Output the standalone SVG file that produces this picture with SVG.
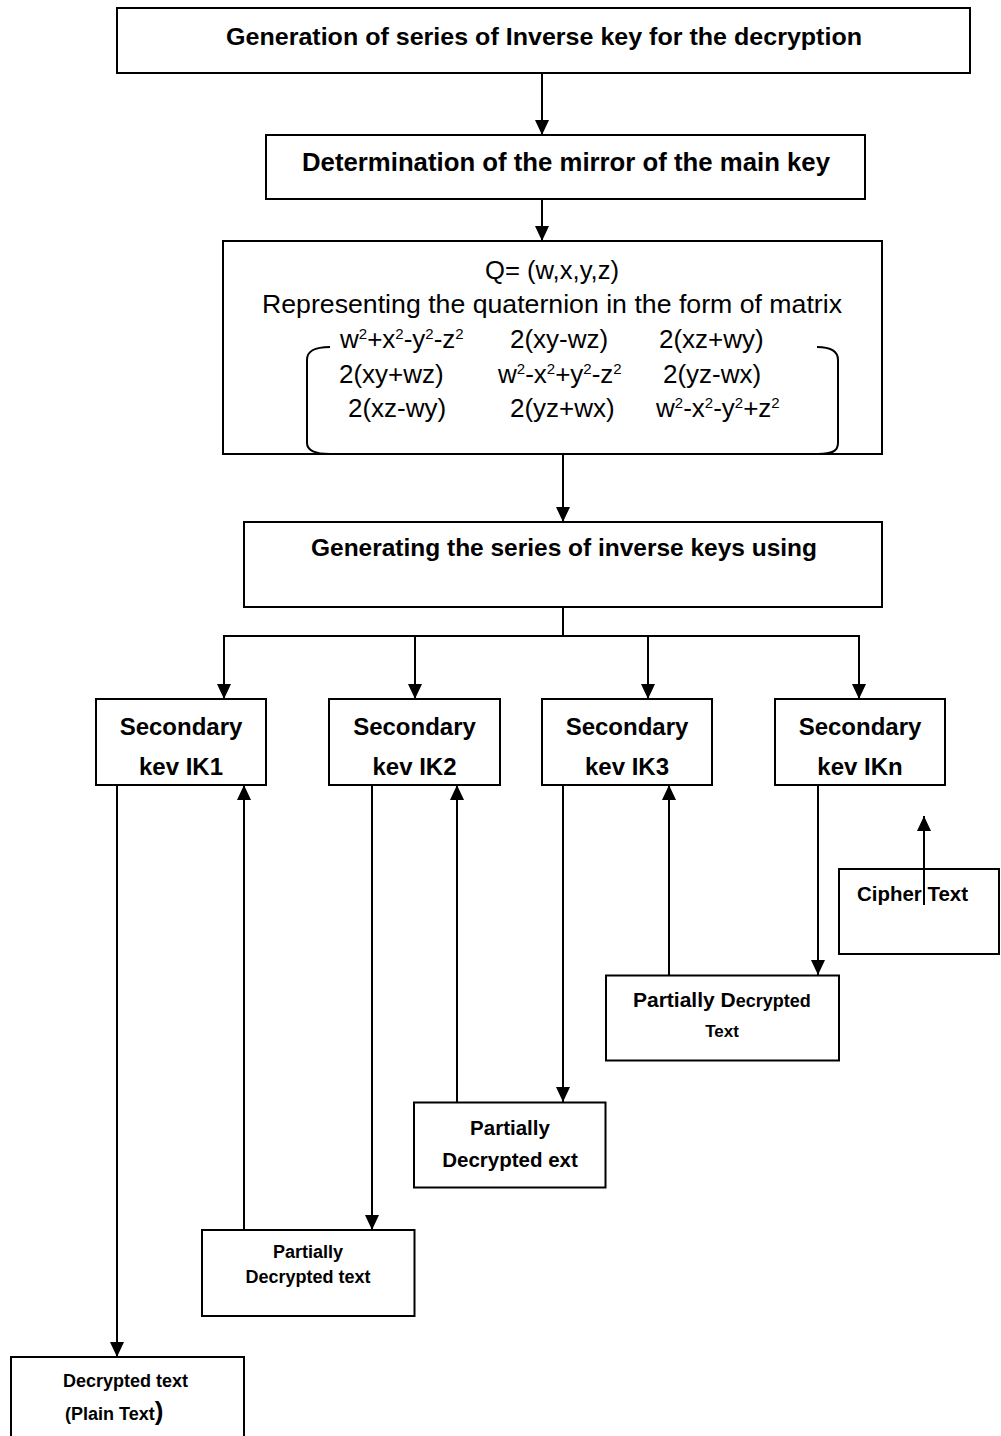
<svg xmlns="http://www.w3.org/2000/svg" width="1001" height="1436" viewBox="0 0 1001 1436">
<style>
.box{fill:#fff;stroke:#000;stroke-width:2}
.ln{fill:none;stroke:#000;stroke-width:2}
.b{font-family:"Liberation Sans",Arial,sans-serif;font-weight:bold;fill:#000}
.r{font-family:"Liberation Sans",Arial,sans-serif;font-weight:normal;fill:#000;font-size:26px}
.c{text-anchor:middle}
.sup{font-size:15px}
</style>
<defs>
<marker id="ah" markerUnits="userSpaceOnUse" markerWidth="16" markerHeight="16" viewBox="0 0 16 16" refX="15" refY="7" orient="auto">
<path d="M0,0 L15,7 L0,14 Z" fill="#000"/>
</marker>
</defs>
<rect width="1001" height="1436" fill="#fff"/>

<g id="connectors">
<line class="ln" x1="542" y1="73" x2="542" y2="135" marker-end="url(#ah)"/>
<line class="ln" x1="542" y1="199" x2="542" y2="241" marker-end="url(#ah)"/>
<line class="ln" x1="563" y1="454" x2="563" y2="522" marker-end="url(#ah)"/>
<polyline class="ln" points="563,607 563,636"/>
<polyline class="ln" points="224,636 859,636"/>
<line class="ln" x1="224" y1="635" x2="224" y2="699" marker-end="url(#ah)"/>
<line class="ln" x1="415" y1="636" x2="415" y2="699" marker-end="url(#ah)"/>
<line class="ln" x1="648" y1="636" x2="648" y2="699" marker-end="url(#ah)"/>
<line class="ln" x1="859" y1="635" x2="859" y2="699" marker-end="url(#ah)"/>
<line class="ln" x1="117" y1="785" x2="117" y2="1357" marker-end="url(#ah)"/>
<line class="ln" x1="244" y1="1230" x2="244" y2="785" marker-end="url(#ah)"/>
<line class="ln" x1="372" y1="785" x2="372" y2="1230" marker-end="url(#ah)"/>
<line class="ln" x1="457" y1="1102" x2="457" y2="785" marker-end="url(#ah)"/>
<line class="ln" x1="563" y1="785" x2="563" y2="1102" marker-end="url(#ah)"/>
<line class="ln" x1="669" y1="975" x2="669" y2="785" marker-end="url(#ah)"/>
<line class="ln" x1="818" y1="785" x2="818" y2="975" marker-end="url(#ah)"/>
</g>

<g id="node-generation">
<rect class="box" x="117" y="8" width="853" height="65"/>
<text class="b c" x="544" y="45" font-size="24" textLength="636" lengthAdjust="spacingAndGlyphs">Generation of series of Inverse key for the decryption</text>
</g>

<g id="node-mirror">
<rect class="box" x="266" y="135" width="599" height="64"/>
<text class="b c" x="566" y="170.5" font-size="26" textLength="528" lengthAdjust="spacingAndGlyphs">Determination of the mirror of the main key</text>
</g>

<g id="node-quaternion">
<rect class="box" x="223" y="241" width="659" height="213"/>
<path class="ln" d="M330,347 C314,347 307,351 307,360 L307,443 C307,450 313,454 330,454"/>
<path class="ln" d="M817,347 C831,347 838,351 838,360 L838,443 C838,451 832,454 818,454"/>
<text class="r c" x="552" y="279" textLength="134" lengthAdjust="spacingAndGlyphs">Q= (w,x,y,z)</text>
<text class="r c" x="552" y="313" textLength="580" lengthAdjust="spacingAndGlyphs">Representing the quaternion in the form of matrix</text>
<text class="r" x="340" y="348">w<tspan class="sup" dy="-9">2</tspan><tspan dy="9">+x</tspan><tspan class="sup" dy="-9">2</tspan><tspan dy="9">-y</tspan><tspan class="sup" dy="-9">2</tspan><tspan dy="9">-z</tspan><tspan class="sup" dy="-9">2</tspan></text>
<text class="r" x="510" y="348">2(xy-wz)</text>
<text class="r" x="659" y="348">2(xz+wy)</text>
<text class="r" x="339" y="382.5">2(xy+wz)</text>
<text class="r" x="498" y="382.5">w<tspan class="sup" dy="-9">2</tspan><tspan dy="9">-x</tspan><tspan class="sup" dy="-9">2</tspan><tspan dy="9">+y</tspan><tspan class="sup" dy="-9">2</tspan><tspan dy="9">-z</tspan><tspan class="sup" dy="-9">2</tspan></text>
<text class="r" x="663" y="382.5">2(yz-wx)</text>
<text class="r" x="348" y="417">2(xz-wy)</text>
<text class="r" x="510" y="417">2(yz+wx)</text>
<text class="r" x="656" y="417">w<tspan class="sup" dy="-9">2</tspan><tspan dy="9">-x</tspan><tspan class="sup" dy="-9">2</tspan><tspan dy="9">-y</tspan><tspan class="sup" dy="-9">2</tspan><tspan dy="9">+z</tspan><tspan class="sup" dy="-9">2</tspan></text>
</g>

<g id="node-generating">
<rect class="box" x="244" y="522" width="638" height="85"/>
<text class="b c" x="564" y="556" font-size="24.5" textLength="506" lengthAdjust="spacingAndGlyphs">Generating the series of inverse keys using</text>
</g>

<g id="node-ik1">
<rect class="box" x="96" y="699" width="170" height="86"/>
<text class="b c" x="181" y="735" font-size="24">Secondary</text>
<text class="b c" x="181" y="775" font-size="24">kev IK1</text>
</g>
<g id="node-ik2">
<rect class="box" x="329" y="699" width="171" height="86"/>
<text class="b c" x="414.5" y="735" font-size="24">Secondary</text>
<text class="b c" x="414.5" y="775" font-size="24">kev IK2</text>
</g>
<g id="node-ik3">
<rect class="box" x="542" y="699" width="170" height="86"/>
<text class="b c" x="627" y="735" font-size="24">Secondary</text>
<text class="b c" x="627" y="775" font-size="24">kev IK3</text>
</g>
<g id="node-ikn">
<rect class="box" x="775" y="699" width="170" height="86"/>
<text class="b c" x="860" y="735" font-size="24">Secondary</text>
<text class="b c" x="860" y="775" font-size="24">kev IKn</text>
</g>

<g id="node-cipher">
<rect class="box" x="839" y="869" width="160" height="85"/>
<text class="b" x="857" y="901" font-size="20" textLength="111" lengthAdjust="spacingAndGlyphs">Cipher Text</text>
<line class="ln" x1="924" y1="905" x2="924" y2="816" marker-end="url(#ah)"/>
</g>

<g id="node-partial3">
<rect class="box" x="606" y="975.5" width="233" height="85"/>
<text class="b" x="633" y="1006.5" font-size="21">Partially D<tspan font-size="18">ecrypted</tspan></text>
<text class="b c" x="722" y="1036.5" font-size="17">Text</text>
</g>

<g id="node-partial2">
<rect class="box" x="414" y="1102.5" width="191.5" height="85"/>
<text class="b c" x="510" y="1135" font-size="20.5">Partially</text>
<text class="b c" x="510" y="1167" font-size="20.5">Decrypted ext</text>
</g>

<g id="node-partial1">
<rect class="box" x="202" y="1230" width="212.5" height="86"/>
<text class="b c" x="308" y="1258" font-size="18">Partially</text>
<text class="b c" x="308" y="1283" font-size="18">Decrypted text</text>
</g>

<g id="node-decrypted">
<rect class="box" x="11" y="1357" width="233" height="100"/>
<text class="b" x="63" y="1387" font-size="18">Decrypted text</text>
<text class="b" x="65" y="1420" font-size="18">(Plain Text<tspan font-size="26">)</tspan></text>
</g>
</svg>
